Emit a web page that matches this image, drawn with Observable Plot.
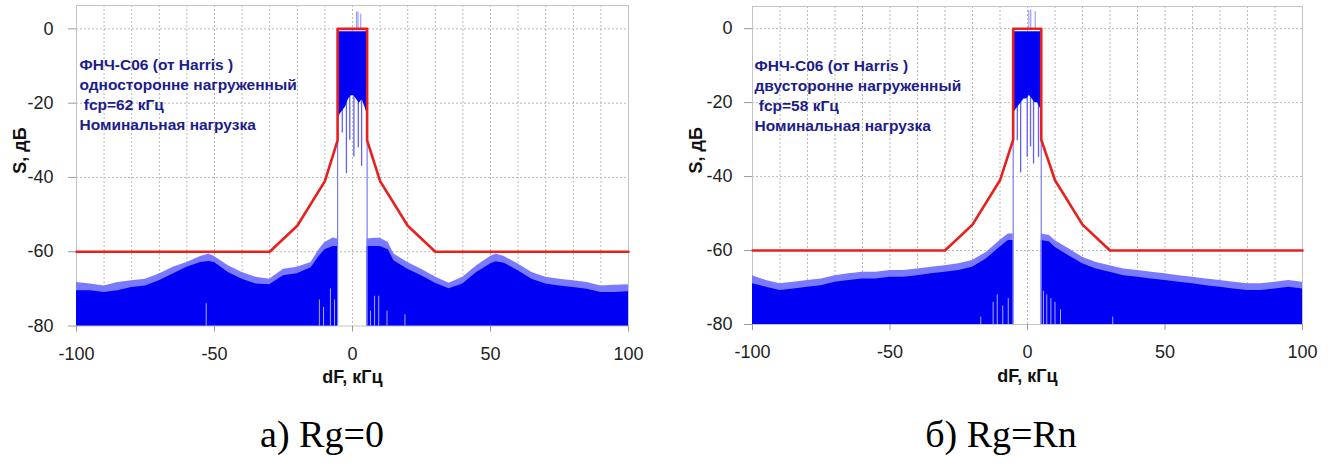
<!DOCTYPE html>
<html>
<head>
<meta charset="utf-8">
<script src="https://cdn.jsdelivr.net/npm/d3@7"></script>
<script src="https://cdn.jsdelivr.net/npm/@observablehq/plot@0.6"></script>
<style>
  html, body { margin: 0; padding: 0; background: #fff; }
  #root { position: relative; width: 1333px; height: 466px; overflow: hidden; }
  .panel { position: absolute; top: 0; }
  .cap { position: absolute; top: 412px; font-family: "Liberation Serif", "Times New Roman", serif; font-size: 38px; color: #000; transform: translateX(-50%); white-space: nowrap; }
</style>
</head>
<body>
<div id="root">
  <div class="panel" id="pL" style="left:0px"></div>
  <div class="panel" id="pR" style="left:666px"></div>
  <div class="cap" id="capL" style="left:322px"></div>
  <div class="cap" id="capR" style="left:1001px"></div>
</div>
<script>
// ---------- shared labels / ticks ----------
const xTicks = [-100, -50, 0, 50, 100];
const yTicks = [0, -20, -40, -60, -80];
const xGrid = [-90, -80, -70, -60, -50, -40, -30, -20, -10, 0, 10, 20, 30, 40, 50, 60, 70, 80, 90];
const yGrid = [0, -20, -40, -60];
const xTitle = "dF, кГц";
const yTitle = "S, дБ";
const captions = ["а) Rg=0", "б) Rg=Rn"];

// ---------- mask (red) ----------
const maskXL = [-100, -30, -20, -10, -5.4, -5.4, 5.3, 5.3, 10, 20, 30, 100];
const maskYL = [-60, -60, -53, -41, -30, 0, 0, -30, -41, -53, -60, -60];
const maskXR = [-100, -30, -20, -10, -5.2, -5.2, 5.0, 5.0, 10, 20, 30, 100];
const maskYR = [-60, -60, -53, -41, -30, 0, 0, -30, -41, -53, -60, -60];

// ---------- annotations ----------
const annoL = ["ФНЧ-С06 (от Harris )", "односторонне нагруженный", "\u00a0fcp=62 кГц", "Номинальная нагрузка"];
const annoR = ["ФНЧ-С06 (от Harris )", "двусторонне нагруженный", "\u00a0fcp=58 кГц", "Номинальная нагрузка"];

// ---------- out-of-band spectrum envelopes, panel a ----------
const specXL    = [-100, -95, -90, -85, -80, -75, -70, -65, -60, -55, -52, -50, -45, -40, -35, -30, -25, -20, -15, -12, -10, -7, -5.4,
                   5.3, 8, 10, 13, 15, 20, 25, 30, 35, 40, 45, 50, 52, 55, 60, 65, 70, 75, 80, 85, 90, 95, 100];
const specPeakL = [-68.3, -68.7, -69.2, -68.3, -67.8, -67.4, -66.0, -64.2, -62.9, -61.3, -60.6, -61.3, -63.8, -65.6, -66.9, -67.4, -64.7, -64.2, -62.9, -59.3, -57.5, -56.3, -56.6,
                   -56.6, -56.4, -56.4, -57.5, -60.6, -62.9, -64.7, -66.8, -68.5, -66.9, -63.8, -61.3, -60.6, -61.3, -63.3, -65.6, -66.9, -67.4, -67.8, -68.3, -69.2, -69.0, -68.9];
const specBodyL = [-70.5, -70.5, -71.0, -70.5, -69.6, -69.2, -67.8, -66.0, -64.2, -62.9, -62.6, -62.9, -65.6, -67.4, -68.7, -68.9, -66.5, -65.9, -64.3, -61.2, -59.5, -58.6, -58.6,
                   -58.6, -58.6, -58.6, -59.5, -62.4, -64.7, -66.5, -68.5, -70.0, -68.7, -65.6, -63.3, -62.7, -63.1, -65.1, -67.4, -68.7, -69.2, -69.6, -70.1, -71.0, -71.0, -70.8];

// ---------- out-of-band spectrum envelopes, panel b ----------
const specXR    = [-100, -95, -90, -85, -80, -75, -70, -65, -60, -55, -50, -45, -40, -35, -30, -25, -20, -15, -10, -7, -5.2,
                   5.0, 8, 10, 15, 20, 25, 30, 35, 40, 45, 50, 55, 60, 65, 70, 75, 80, 85, 90, 95, 100];
const specPeakR = [-66.8, -68.1, -69.0, -68.6, -68.1, -67.7, -66.8, -66.3, -65.9, -65.9, -65.4, -65.4, -65.0, -64.5, -64.1, -63.6, -62.7, -60.5, -57.3, -55.5, -55.5,
                   -55.5, -55.9, -57.3, -59.5, -61.8, -63.2, -64.1, -65.0, -65.4, -65.9, -66.3, -66.8, -67.2, -67.7, -68.1, -68.6, -69.0, -69.0, -68.6, -68.1, -68.6];
const specBodyR = [-69.0, -69.9, -70.8, -70.4, -69.9, -69.5, -68.6, -68.1, -67.7, -67.7, -67.2, -67.2, -66.8, -66.3, -65.9, -65.4, -64.5, -62.3, -59.1, -57.3, -57.3,
                   -57.3, -57.7, -59.1, -61.4, -63.6, -65.0, -65.9, -66.8, -67.2, -67.7, -68.1, -68.6, -69.0, -69.5, -69.9, -70.4, -70.8, -70.8, -70.4, -69.9, -70.4];

// ---------- passband ----------
const passXL   = [-5.4, -4.5, -3.5, -2.5, -1.5, -0.5, 0.5, 1.5, 2.5, 3.5, 4.5, 5.3];
const passLowL = [-25, -23, -22, -21, -19, -18, -18, -19, -20, -19, -21, -23];
const passXR   = [-5.2, -4.3, -3.3, -2.3, -1.3, -0.3, 0.7, 1.7, 2.7, 3.7, 4.3, 5.0];
const passLowR = [-23, -22, -21, -20, -19, -19, -18, -19, -20, -20, -21, -22];
const passTop  = -0.8;

// deep spikes inside passband
const spikeXL   = [-3.7, -2.2, -1.0, 0.5, 2.1, 3.3];
const spikeLowL = [-28, -39, -30, -34.5, -32, -37];
const spikeXR   = [-3.7, -2.5, -0.1, 1.1, 2.2, 4.0];
const spikeLowR = [-30.3, -39, -34.8, -32, -36.6, -34.8];
// spikes above 0 dB
const overXL   = [1.5, 2.0, 3.0];
const overTopL = [4.5, 4.5, 4.0];
const overXR   = [0.5, 1.2, 2.8];
const overTopR = [5.0, 5.0, 4.6];
// edge lines of the passband
const edgeXL = [-5.4, 5.3];
const edgeXR = [-5.2, 5.0];
const edgeTop = -28;
// light streaks at the bottom of the noise
const lowXL   = [-53, -12, -10.5, -8, -6.5, 6.5, 8, 9.5, 12.5, 19];
const lowTopL = [-74, -73, -75, -70, -73, -76, -72, -72, -76, -77];
const lowXR   = [-17, -12.5, -11, -9, -7, 5.8, 7, 8.5, 10, 12, 31];
const lowTopR = [-78, -74, -72, -75, -73, -71, -72, -73, -74, -76, -78];

const BLUE = "#0000f5";
const FRINGE = "#6b6bff";
const RED = "#e8201c";
const NAVY = "#1c1c8c";

function panel(cfg) {
  const spec = cfg.specX.map((x, i) => ({x, peak: cfg.specPeak[i], body: cfg.specBody[i], side: x < 0 ? "L" : "R"}));
  const pass = cfg.passX.map((x, i) => ({x, low: cfg.passLow[i], top: passTop}));
  const spikes = cfg.spikeX.map((x, i) => ({x, low: cfg.spikeLow[i]}));
  const over = cfg.overX.map((x, i) => ({x, top: cfg.overTop[i]}));
  const lows = cfg.lowX.map((x, i) => ({x, top: cfg.lowTop[i]}));
  const edges = cfg.edgeX.map(x => ({x}));
  const mask = cfg.maskX.map((x, i) => ({x, y: cfg.maskY[i]}));
  return Plot.plot({
    width: cfg.width,
    height: 400,
    marginLeft: cfg.ml,
    marginRight: cfg.mr,
    marginTop: cfg.mt,
    marginBottom: cfg.mb,
    style: {fontFamily: "'Liberation Sans', Arial, sans-serif", fontSize: "18px", color: "#222", background: "#fff", overflow: "visible"},
    x: {domain: [-100, 100]},
    y: {domain: [-80, cfg.ytop]},
    marks: [
      Plot.gridX(xGrid, {stroke: "#b8b8b8", strokeOpacity: 1, strokeDasharray: "2,2"}),
      Plot.gridY(yGrid, {stroke: "#b8b8b8", strokeOpacity: 1, strokeDasharray: "2,2"}),
      Plot.frame({stroke: "#c4c4c4"}),
      // noise fringe and body
      Plot.areaY(spec, {x: "x", y1: -80, y2: "peak", z: "side", fill: FRINGE, fillOpacity: 0.9}),
      Plot.areaY(spec, {x: "x", y1: -80, y2: "body", z: "side", fill: BLUE}),
      Plot.ruleX(lows, {x: "x", y1: -80, y2: "top", stroke: "#a9a9ff", strokeWidth: 1}),
      // passband
      Plot.ruleX(edges, {x: "x", y1: -80, y2: edgeTop, stroke: "#7a7aff", strokeWidth: 1.2}),
      Plot.ruleX(spikes, {x: "x", y1: "low", y2: -12, stroke: "#6060ff", strokeWidth: 1.3}),
      Plot.ruleX(over, {x: "x", y1: 0, y2: "top", stroke: "#8a8aff", strokeWidth: 1}),
      Plot.areaY(pass, {x: "x", y1: "low", y2: "top", fill: BLUE}),
      // mask
      Plot.line(mask, {x: "x", y: "y", stroke: RED, strokeWidth: 2.6}),
      Plot.axisX(xTicks, {tickSize: 6, tickPadding: 15, stroke: "#999", fill: "#222", fontSize: 18, label: null, tickFormat: d => String(d)}),
      Plot.axisY(yTicks, {tickSize: 8, tickPadding: cfg.ytp, stroke: "#999", fill: "#222", fontSize: 18, label: null, tickFormat: d => String(d)}),
      Plot.text([xTitle], {frameAnchor: "bottom", dy: 57, fontWeight: "bold", fontSize: 18, fill: "#111"}),
      Plot.text([yTitle], {frameAnchor: "left", rotate: -90, dx: cfg.ydx, dy: 8, fontWeight: "bold", fontSize: 18, fill: "#111"}),
      Plot.text([cfg.anno.join("\n")], {frameAnchor: "top-left", textAnchor: "start", lineAnchor: "top", dx: cfg.adx, dy: 51, lineHeight: 1.27, fontSize: 15.5, fontWeight: "bold", fill: NAVY})
    ]
  });
}

document.getElementById("pL").append(panel({
  width: 666, ml: 76, mr: 38, mt: 5, mb: 74.5, ytop: 6.3, ytp: 15, ydx: -56, adx: 3,
  specX: specXL, specPeak: specPeakL, specBody: specBodyL,
  passX: passXL, passLow: passLowL, spikeX: spikeXL, spikeLow: spikeLowL,
  overX: overXL, overTop: overTopL, edgeX: edgeXL, lowX: lowXL, lowTop: lowTopL,
  maskX: maskXL, maskY: maskYL, anno: annoL
}));
document.getElementById("pR").append(panel({
  width: 667, ml: 86, mr: 31, mt: 6, mb: 76, ytop: 6, ytp: 12, ydx: -56, adx: 2,
  specX: specXR, specPeak: specPeakR, specBody: specBodyR,
  passX: passXR, passLow: passLowR, spikeX: spikeXR, spikeLow: spikeLowR,
  overX: overXR, overTop: overTopR, edgeX: edgeXR, lowX: lowXR, lowTop: lowTopR,
  maskX: maskXR, maskY: maskYR, anno: annoR
}));
document.getElementById("capL").textContent = captions[0];
document.getElementById("capR").textContent = captions[1];
</script>
</body>
</html>
